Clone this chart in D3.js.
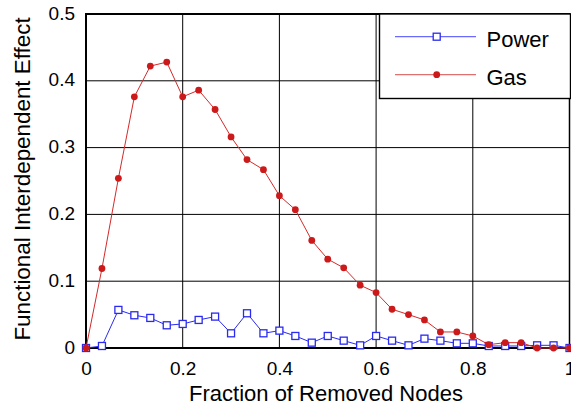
<!DOCTYPE html>
<html>
<head>
<meta charset="utf-8">
<script src="https://cdn.jsdelivr.net/npm/d3@7"></script>
<style>
  html, body { margin: 0; padding: 0; background: #fff; }
  svg { display: block; font-family: "Liberation Sans", Arial, sans-serif; }
</style>
</head>
<body>
<svg id="chart" width="571" height="408"></svg>
<script>
// Fraction of removed nodes (x) and the measured effect for each network
const fractions = [0, 0.033, 0.067, 0.1, 0.133, 0.167, 0.2, 0.233, 0.267, 0.3,
  0.333, 0.367, 0.4, 0.433, 0.467, 0.5, 0.533, 0.567, 0.6, 0.633,
  0.667, 0.7, 0.733, 0.767, 0.8, 0.833, 0.867, 0.9, 0.933, 0.967, 1];
const power = [0, 0.003, 0.057, 0.049, 0.045, 0.034, 0.036, 0.042, 0.047, 0.022,
  0.052, 0.022, 0.026, 0.018, 0.008, 0.018, 0.011, 0.004, 0.018, 0.011,
  0.004, 0.014, 0.011, 0.007, 0.007, 0.003, 0.003, 0.003, 0.004, 0.004, 0];
const gas = [0, 0.119, 0.254, 0.376, 0.422, 0.428, 0.376, 0.386, 0.357, 0.316,
  0.282, 0.267, 0.228, 0.207, 0.161, 0.133, 0.120, 0.094, 0.083, 0.058,
  0.050, 0.042, 0.024, 0.024, 0.018, 0.005, 0.008, 0.008, 0, 0, 0];
const xTicks = [0, 0.2, 0.4, 0.6, 0.8, 1];
const yTicks = [0, 0.1, 0.2, 0.3, 0.4, 0.5];
const seriesNames = ["Power", "Gas"];

const svg = d3.select("#chart");
const plotLeft = 86, plotRight = 569.5, plotTop = 14, plotBottom = 348;

const x = d3.scaleLinear().domain([0, 1]).range([plotLeft, plotRight]);
const y = d3.scaleLinear().domain([0, 0.5]).range([plotBottom, plotTop]);

const fmt = d => d === 0 ? "0" : (d === 1 ? "1" : d3.format(".1f")(d));

// grid lines
const grid = svg.append("g").attr("stroke", "#000").attr("stroke-width", 1);
xTicks.filter(t => t > 0 && t < 1).forEach(t => {
  grid.append("line").attr("x1", x(t)).attr("x2", x(t)).attr("y1", plotTop).attr("y2", plotBottom);
});
yTicks.filter(t => t > 0 && t < 0.5).forEach(t => {
  grid.append("line").attr("x1", plotLeft).attr("x2", plotRight).attr("y1", y(t)).attr("y2", y(t));
});

// axes (labels only; frame drawn separately)
const xAxis = svg.append("g").attr("transform", `translate(0,${plotBottom})`)
  .call(d3.axisBottom(x).tickValues(xTicks).tickFormat(fmt).tickSize(0));
xAxis.select(".domain").remove();
xAxis.selectAll("text").attr("y", 27).attr("dy", null)
  .attr("font-size", 19).attr("fill", "#000");
xAxis.attr("font-family", null).attr("font-size", null);

const yAxis = svg.append("g").attr("transform", `translate(${plotLeft},0)`)
  .call(d3.axisLeft(y).tickValues(yTicks).tickFormat(fmt).tickSize(0));
yAxis.select(".domain").remove();
yAxis.selectAll("text").attr("x", -11).attr("dy", 5)
  .attr("font-size", 19).attr("fill", "#000");
yAxis.attr("font-family", null).attr("font-size", null);

// plot frame
svg.append("line").attr("x1", plotLeft).attr("x2", plotRight + 1).attr("y1", plotTop).attr("y2", plotTop)
  .attr("stroke", "#000").attr("stroke-width", 2);
svg.append("line").attr("x1", plotRight).attr("x2", plotRight).attr("y1", plotTop).attr("y2", plotBottom)
  .attr("stroke", "#000").attr("stroke-width", 1.5);
svg.append("line").attr("x1", plotLeft).attr("x2", plotRight + 1).attr("y1", plotBottom).attr("y2", plotBottom)
  .attr("stroke", "#000").attr("stroke-width", 2);
svg.append("line").attr("x1", plotLeft).attr("x2", plotLeft).attr("y1", plotTop - 1).attr("y2", plotBottom + 1)
  .attr("stroke", "#000").attr("stroke-width", 2);

// axis titles
svg.append("text").attr("x", 326).attr("y", 400.5).attr("text-anchor", "middle")
  .attr("font-size", 22).text("Fraction of Removed Nodes");
svg.append("text").attr("transform", "translate(30,179) rotate(-90)")
  .attr("text-anchor", "middle").attr("font-size", 22.4)
  .text("Functional Interdependent Effect");

// series
const powerColor = "#2a2af0", gasColor = "#d42a2a";
const line = d3.line().x((d, i) => x(fractions[i])).y(d => y(d));

svg.append("path").datum(power).attr("d", line)
  .attr("fill", "none").attr("stroke", powerColor).attr("stroke-width", 1);
svg.append("g").selectAll("rect").data(power).join("rect")
  .attr("x", (d, i) => x(fractions[i]) - 3.5).attr("y", d => y(d) - 3.5)
  .attr("width", 7).attr("height", 7)
  .attr("fill", "#fff").attr("stroke", powerColor).attr("stroke-width", 1.3);

svg.append("path").datum(gas).attr("d", line)
  .attr("fill", "none").attr("stroke", gasColor).attr("stroke-width", 1);
svg.append("g").selectAll("circle").data(gas).join("circle")
  .attr("cx", (d, i) => x(fractions[i])).attr("cy", d => y(d)).attr("r", 3.4)
  .attr("fill", "#cc1a1a");

// legend
const lg = svg.append("g");
lg.append("rect").attr("x", 379.5).attr("y", plotTop).attr("width", 191).attr("height", 84.5)
  .attr("fill", "#fff").attr("stroke", "#000").attr("stroke-width", 1.4);
const legendRows = [
  { name: seriesNames[0], y: 36.7, color: "#6a6aff", marker: "square" },
  { name: seriesNames[1], y: 74.7, color: "#e07070", marker: "circle" }
];
legendRows.forEach(r => {
  lg.append("line").attr("x1", 395).attr("x2", 476).attr("y1", r.y).attr("y2", r.y)
    .attr("stroke", r.color).attr("stroke-width", 1.2);
  if (r.marker === "square") {
    lg.append("rect").attr("x", 433.2).attr("y", r.y - 3.5).attr("width", 7).attr("height", 7)
      .attr("fill", "#fff").attr("stroke", powerColor).attr("stroke-width", 1.3);
  } else {
    lg.append("circle").attr("cx", 436.7).attr("cy", r.y).attr("r", 3.4).attr("fill", "#cc1a1a");
  }
  lg.append("text").attr("x", 486.5).attr("y", r.y + 10).attr("font-size", 22).text(r.name);
});
</script>
</body>
</html>
